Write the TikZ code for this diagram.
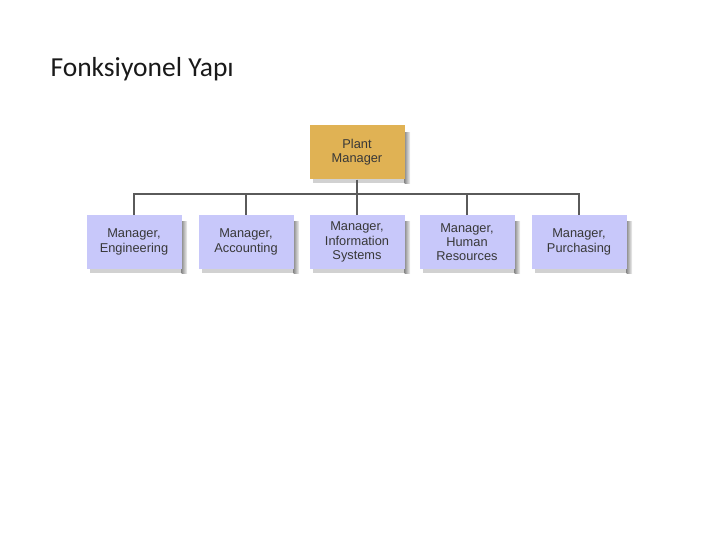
\documentclass[tikz,border=0pt]{standalone}
\usepackage{fontspec}
\setmainfont{Liberation Sans}
\newfontfamily\titlefont{Carlito}
\begin{document}
\begin{tikzpicture}[x=1pt,y=-1pt,
  box/.style={minimum width=95pt,minimum height=54pt,inner sep=1pt,align=center,
    font=\fontsize{12.8}{14.3}\selectfont,text=black!78},
  top/.style={box,fill={rgb,255:red,224;green,178;blue,84}},
  sub/.style={box,fill={rgb,255:red,200;green,200;blue,250}},
  conn/.style={draw={rgb,255:red,90;green,90;blue,90},line width=1.6pt},
  shad/.style={left color=black!45,right color=black!5}]
\useasboundingbox (0,0) rectangle (720,540);
\node[anchor=base west,font=\titlefont\fontsize{27.5}{32}\selectfont,text=black!90] (title) at (47,77) {Fonksiyonel Yapı};
% shadows
\foreach \cx/\cy in {357/152.5,134/242,246/242,357/242,467/242,579/242}{
  \fill[black!18] (\cx-44,\cy+27) rectangle (\cx+50,\cy+31);
  \fill[shad] (\cx+47.5,\cy-20) rectangle (\cx+53,\cy+31);
}
\node[top] (pm) at (357,152.5) {Plant\\Manager};
\node[sub] (eng) at (134,242) {Manager,\\Engineering};
\node[sub] (acc) at (246,242) {Manager,\\Accounting};
\node[sub] (is) at (357,242) {Manager,\\Information\\Systems};
\node[sub] (hr) at (467,242) {Manager,\\Human\\Resources};
\node[sub] (pur) at (579,242) {Manager,\\Purchasing};
\coordinate (bar) at (357,194);
\draw[conn] (pm.south) -- (bar);
\draw[conn] (eng.north) |- (bar) -| (pur.north);
\draw[conn] (acc.north) -- (acc.north |- bar);
\draw[conn] (is.north) -- (bar);
\draw[conn] (hr.north) -- (hr.north |- bar);
\end{tikzpicture}
\end{document}
